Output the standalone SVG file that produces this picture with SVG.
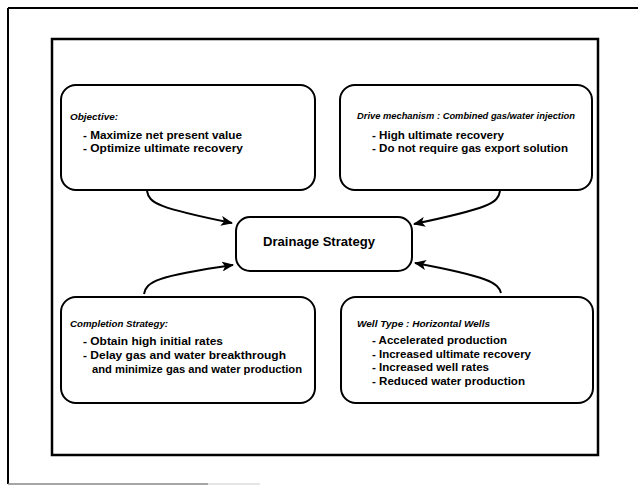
<svg xmlns="http://www.w3.org/2000/svg" width="638" height="485" viewBox="0 0 638 485">
<style>
.box{fill:#fff;stroke:#000;stroke-width:2}
.frame{fill:none;stroke:#000;stroke-width:2.5}
.title{font-family:"Liberation Sans","Open Sans",sans-serif;font-weight:700;font-style:italic;font-size:9.5px;fill:#000}
.item{font-family:"Liberation Sans","Open Sans",sans-serif;font-weight:700;font-size:11px;fill:#000}
.main{font-family:"Liberation Sans","Open Sans",sans-serif;font-weight:700;font-size:13px;fill:#000}
.conn{fill:none;stroke:#000;stroke-width:2}
</style>
<defs>
<marker id="ah" viewBox="0 0 12 10" refX="11" refY="5" markerWidth="12" markerHeight="10" markerUnits="userSpaceOnUse" orient="auto">
<path d="M0,0 L12,5 L0,10 L3,5 z" fill="#000"/>
</marker>
</defs>
<rect width="638" height="485" fill="#fff"/>
<g id="outer-frame">
<path d="M8,8 H638" stroke="#000" stroke-width="2" fill="none"/>
<path d="M8,8 V484" stroke="#000" stroke-width="2" fill="none"/>
<path d="M8,484 H208" stroke="#888" stroke-width="1.5" fill="none"/>
<path d="M208,484 H260" stroke="#ccc" stroke-width="1" fill="none"/>
</g>
<g id="inner-frame">
<rect class="frame" x="52" y="39" width="546" height="416"/>
</g>
<g id="connectors">
<path class="conn" d="M147,191 C149,203 158,208 232,223" marker-end="url(#ah)"/>
<path class="conn" d="M500,191 C498,203 490,208 414,224" marker-end="url(#ah)"/>
<path class="conn" d="M144,294 C146,282 156,276 233,265" marker-end="url(#ah)"/>
<path class="conn" d="M501,293 C498,283 490,277 415,263" marker-end="url(#ah)"/>
</g>
<g id="objective">
<rect class="box" x="61" y="85" width="254" height="105" rx="15"/>
<text class="title" x="70" y="120" textLength="48" lengthAdjust="spacingAndGlyphs">Objective:</text>
<text class="item" x="83" y="139" textLength="159" lengthAdjust="spacingAndGlyphs">- Maximize net present value</text>
<text class="item" x="83" y="152" textLength="160" lengthAdjust="spacingAndGlyphs">- Optimize ultimate recovery</text>
</g>
<g id="drive">
<rect class="box" x="340" y="85" width="252" height="105" rx="15"/>
<text class="title" x="357" y="119" textLength="218" lengthAdjust="spacingAndGlyphs">Drive mechanism : Combined gas/water injection</text>
<text class="item" x="372" y="139" textLength="132" lengthAdjust="spacingAndGlyphs">- High ultimate recovery</text>
<text class="item" x="372" y="152" textLength="196" lengthAdjust="spacingAndGlyphs">- Do not require gas export solution</text>
</g>
<g id="drainage">
<rect class="box" x="236" y="217" width="176" height="54" rx="14"/>
<text class="main" x="263" y="246" textLength="112" lengthAdjust="spacingAndGlyphs">Drainage Strategy</text>
</g>
<g id="completion">
<rect class="box" x="61" y="297" width="254" height="106" rx="15"/>
<text class="title" x="70" y="327" textLength="98" lengthAdjust="spacingAndGlyphs">Completion Strategy:</text>
<text class="item" x="83" y="345" textLength="140" lengthAdjust="spacingAndGlyphs">- Obtain high initial rates</text>
<text class="item" x="83" y="359" textLength="203" lengthAdjust="spacingAndGlyphs">- Delay gas and water breakthrough</text>
<text class="item" x="92" y="373" textLength="210" lengthAdjust="spacingAndGlyphs">and minimize gas and water production</text>
</g>
<g id="welltype">
<rect class="box" x="341" y="297" width="252" height="106" rx="15"/>
<text class="title" x="357" y="327" textLength="133" lengthAdjust="spacingAndGlyphs">Well Type : Horizontal Wells</text>
<text class="item" x="372" y="344" textLength="135" lengthAdjust="spacingAndGlyphs">- Accelerated production</text>
<text class="item" x="372" y="357.5" textLength="159" lengthAdjust="spacingAndGlyphs">- Increased ultimate recovery</text>
<text class="item" x="372" y="371" textLength="117" lengthAdjust="spacingAndGlyphs">- Increased well rates</text>
<text class="item" x="372" y="384.5" textLength="153" lengthAdjust="spacingAndGlyphs">- Reduced water production</text>
</g>
</svg>
